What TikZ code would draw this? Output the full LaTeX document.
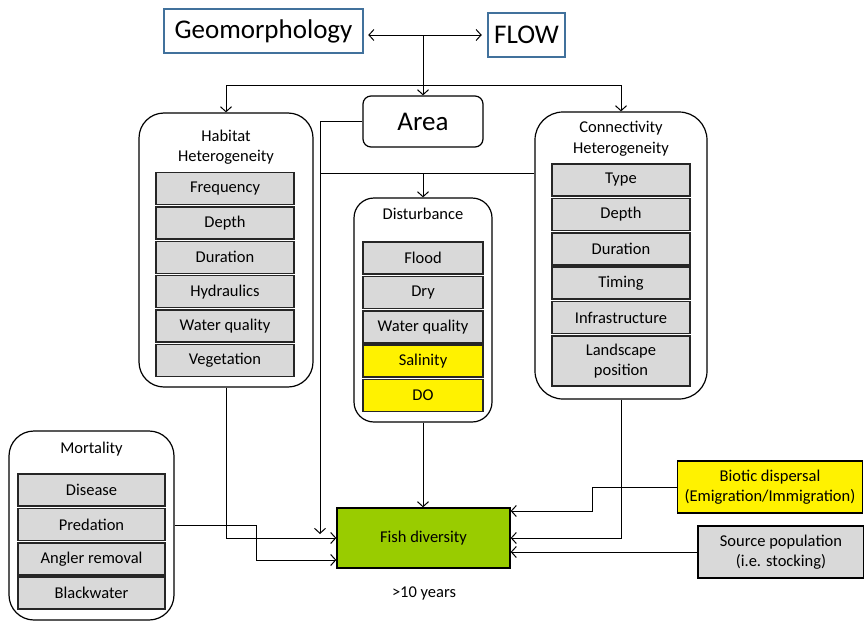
\documentclass[tikz,border=0pt]{standalone}
\usepackage{fontspec}
\setmainfont{Carlito}
\usetikzlibrary{arrows.meta,positioning}
\definecolor{blueedge}{HTML}{41719C}
\definecolor{itemgray}{HTML}{D9D9D9}
\definecolor{itemedge}{HTML}{262626}
\definecolor{fishgreen}{HTML}{99CC00}

\begin{document}
\begin{tikzpicture}[x=1pt,y=-1pt,node distance=2.4pt, every node/.style={font={\fontsize{16.5}{20.5}\selectfont}}, chev/.tip={Straight Barb[length=5pt,width=11pt]}, line/.style={line width=1pt,-chev}, link/.style={line width=1pt}, both/.style={line width=1pt,chev-chev,shorten <=4pt,shorten >=5pt}, big/.style={font={\fontsize{27}{32}\selectfont}}, driver/.style={rectangle,draw=blueedge,line width=2.5pt,inner sep=0pt,minimum height=44pt,big}, group/.style={rectangle,draw,line width=1.2pt,rounded corners=#1,inner sep=0pt}, item/.style={rectangle,draw=itemedge,fill=itemgray,line width=1.5pt,inner sep=0pt,outer sep=0pt,minimum height=32pt,minimum width=#1,align=center}, endbox/.style={rectangle,draw,line width=1.3pt,inner sep=0pt,align=center}]
\useasboundingbox (0,0) rectangle (864,621);
\node[driver,minimum width=199pt] (geo) at (263.5,31) {Geomorphology};
\node[driver,minimum width=77pt] (flow) at (526.5,35) {FLOW};
\node[group=8pt,minimum width=120pt,minimum height=51pt,big] (area) at (423,121.5) {Area};
\node[group=25pt,minimum width=174pt,minimum height=274pt] (hab) at (226,250) {};
\node[align=center] (habtitle) at (226,147) {Habitat\\Heterogeneity};
\node[item=138pt] (hfreq) at (225,188.5) {Frequency};
\node[item=138pt,below=of hfreq] (hdepth) {Depth};
\node[item=138pt,below=of hdepth] (hdur) {Duration};
\node[item=138pt,below=of hdur] (hhyd) {Hydraulics};
\node[item=138pt,below=of hhyd] (hwq) {Water quality};
\node[item=138pt,below=of hwq] (hveg) {Vegetation};
\node[group=20pt,minimum width=138pt,minimum height=224pt] (dist) at (423,310) {};
\node (disttitle) at (423,214) {Disturbance};
\node[item=120pt] (dflood) at (423,258) {Flood};
\node[item=120pt,below=of dflood] (ddry) {Dry};
\node[item=120pt,below=of ddry] (dwq) {Water quality};
\node[item=120pt,fill=yellow,below=of dwq] (dsal) {Salinity};
\node[item=120pt,fill=yellow,below=of dsal] (ddo) {DO};
\node[group=28pt,minimum width=172pt,minimum height=287pt] (con) at (621,255.5) {};
\node[align=center] (contitle) at (621,138.5) {Connectivity\\Heterogeneity};
\node[item=138pt] (ctype) at (621,180) {Type};
\node[item=138pt,below=of ctype] (cdepth) {Depth};
\node[item=138pt,below=of cdepth] (cdur) {Duration};
\node[item=138pt,below=of cdur] (ctime) {Timing};
\node[item=138pt,below=of ctime] (cinfra) {Infrastructure};
\node[item=138pt,minimum height=50pt,below=of cinfra] (cland) {Landscape\\position};
\node[group=25pt,minimum width=165pt,minimum height=189pt] (mort) at (91.5,525.5) {};
\node (morttitle) at (91.5,449) {Mortality};
\node[item=147pt] (mdis) at (91.5,490) {Disease};
\node[item=147pt,below=of mdis] (mpred) {Predation};
\node[item=147pt,below=of mpred] (mangl) {Angler removal};
\node[item=147pt,below=of mangl] (mblack) {Blackwater};
\node[endbox,fill=fishgreen,minimum width=173pt,minimum height=60pt] (fish) at (423.5,538) {Fish diversity};
\node[endbox,fill=yellow,minimum width=185pt,minimum height=52pt] (bio) at (770,487) {Biotic dispersal\\(Emigration/Immigration)};
\node[endbox,fill=itemgray,minimum width=166pt,minimum height=52pt] (src) at (781,552) {Source population\\(i.e. stocking)};
\node (years) at (424,593) {>10 years};
\coordinate (split) at (423,85);
\coordinate (adrop) at (320,534);
\coordinate (cjoin) at (320,173);
\draw[both] (flow.west -| geo.east) -- (flow.west);
\draw[line] (flow.west -| area.north) -- (area.north);
\draw[line] (split) -| (hab.north);
\draw[line] (split) -| (con.north);
\draw[line] (area.west) -| (adrop);
\draw[link] (cjoin -| con.west) -- (cjoin);
\draw[line] (cjoin -| dist.north) -- (dist.north);
\draw[line] (hab.south) |- (fish.west);
\draw[line] (mort.east) -- ++(82,0) |- ([yshift=-22pt]fish.west);
\draw[line] (dist.south) -- (dist.south |- fish.north);
\draw[line] (con.south) |- (fish.east);
\draw[line] (bio.west) -- ++(-84,0) |- ([yshift=27pt]fish.east);
\draw[line] (src.west) -- (src.west -| fish.east);
\end{tikzpicture}
\end{document}
